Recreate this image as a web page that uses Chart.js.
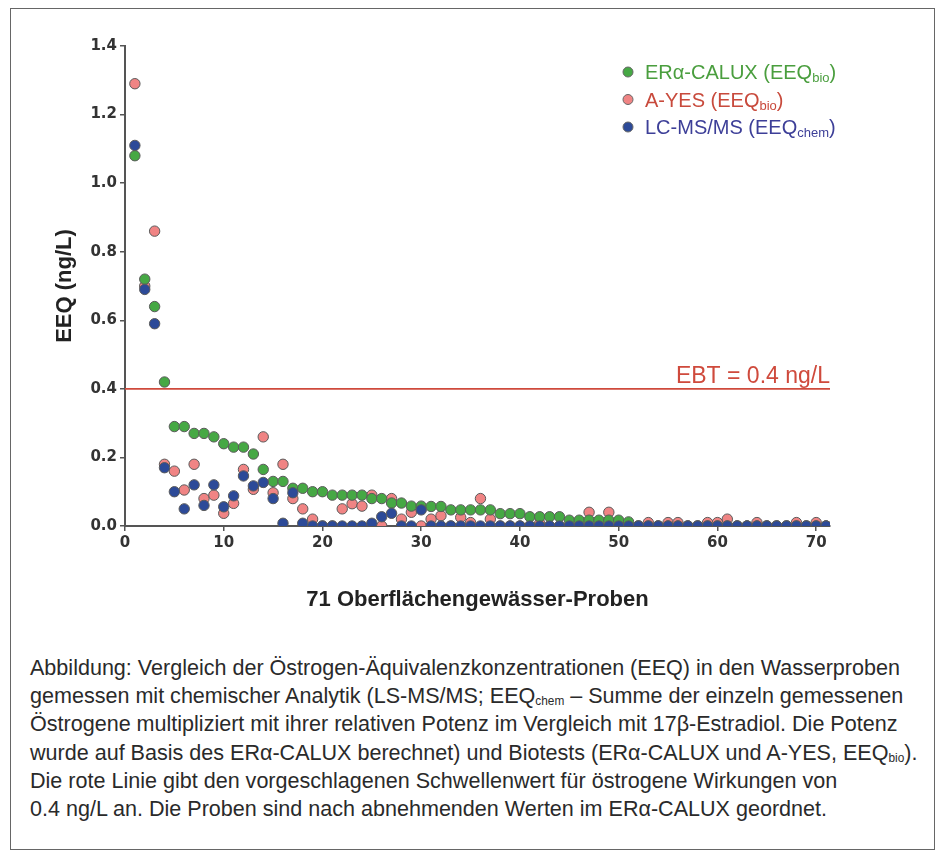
<!DOCTYPE html>
<html><head><meta charset="utf-8">
<script src="https://cdn.jsdelivr.net/npm/chart.js@4.4.0/dist/chart.umd.min.js"></script>
<style>
html,body{margin:0;padding:0;background:#fff;}
#frame{position:absolute;left:10px;top:8px;width:925px;height:842px;border:1px solid #666;box-sizing:border-box;}
#wrap{position:absolute;left:0;top:0;width:941px;height:640px;}
#caption{position:absolute;left:30px;top:654px;font-family:"Liberation Sans",Arial,sans-serif;font-size:18.5px;line-height:28.2px;color:#2a2a2a;white-space:nowrap;}
#caption div{height:28.2px;}
#caption span.l{display:inline-block;}
#caption sub{font-size:0.55em;vertical-align:-0.15em;line-height:0;}
</style></head>
<body>
<div id="frame"></div>
<div id="wrap"><canvas id="c" width="941" height="640"></canvas></div>
<div id="caption">
<div><span class="l" id="firstLine">Abbildung: Vergleich der Östrogen-Äquivalenzkonzentrationen (EEQ) in den Wasserproben</span></div>
<div>gemessen mit chemischer Analytik (LS-MS/MS; EEQ<sub>chem</sub> – Summe der einzeln gemessenen</div>
<div>Östrogene multipliziert mit ihrer relativen Potenz im Vergleich mit 17β-Estradiol. Die Potenz</div>
<div>wurde auf Basis des ERα-CALUX berechnet) und Biotests (ERα-CALUX und A-YES, EEQ<sub>bio</sub>).</div>
<div>Die rote Linie gibt den vorgeschlagenen Schwellenwert für östrogene Wirkungen von</div>
<div>0.4 ng/L an. Die Proben sind nach abnehmenden Werten im ERα-CALUX geordnet.</div>
</div>
<script>
// ---- data ----
const samples = [1,2,3,4,5,6,7,8,9,10,11,12,13,14,15,16,17,18,19,20,21,22,23,24,25,26,27,28,29,30,31,32,33,34,35,36,37,38,39,40,41,42,43,44,45,46,47,48,49,50,51,52,53,54,55,56,57,58,59,60,61,62,63,64,65,66,67,68,69,70,71];
const calux = [1.08,0.72,0.64,0.42,0.29,0.29,0.27,0.27,0.26,0.24,0.23,0.23,0.21,0.165,0.13,0.13,0.11,0.11,0.10,0.10,0.09,0.09,0.09,0.09,0.08,0.08,0.067,0.067,0.058,0.058,0.057,0.057,0.047,0.047,0.047,0.047,0.047,0.036,0.036,0.036,0.027,0.027,0.027,0.027,0.017,0.017,0.017,0.017,0.017,0.017,0.012,0,0,0,0,0,0,0,0,0,0,0,0,0,0,0,0,0,0,0,0];
const ayes = [1.29,0.70,0.86,0.18,0.16,0.105,0.18,0.08,0.09,0.037,0.066,0.165,0.107,0.26,0.097,0.18,0.08,0.05,0.02,0,0,0.05,0.065,0.058,0.09,0,0.08,0.02,0.04,0,0.02,0.03,0,0.025,0.01,0.08,0.02,0,0,0,0,0.008,0,0,0,0,0.04,0,0.04,0,0,0,0.01,0,0.01,0.01,0,0,0.01,0.01,0.02,0,0,0.01,0,0,0,0.01,0,0.01,0];
const lcms = [1.11,0.69,0.59,0.17,0.10,0.05,0.12,0.06,0.12,0.056,0.088,0.146,0.117,0.127,0.08,0.008,0.097,0.008,0,0,0,0,0,0,0.008,0.027,0.037,0,0,0.047,0,0,0,0,0,0,0,0,0,0,0,0,0,0,0,0,0,0,0,0,0,0,0,0,0,0,0,0,0,0,0,0,0,0,0,0,0,0,0,0,0];
const xTicks = [0,10,20,30,40,50,60,70];
const yTicks = [0,0.2,0.4,0.6,0.8,1.0,1.2,1.4];
const EBT = 0.4;
const xMin = 0, xMax = 71.4, yMin = 0, yMax = 1.4;

// fit caption width to the reference line length
(function(){
  const cap = document.getElementById('caption');
  const w = document.getElementById('firstLine').getBoundingClientRect().width;
  cap.style.fontSize = (18.5 * 870 / w).toFixed(2) + 'px';
})();

const GREEN='#46a844', RED='#f08484', BLUE='#2c4a98', LINE_RED='#cf4a3c';
const pts = arr => samples.map((s,i)=>({x:s,y:arr[i]}));

const legendItems = [
  {main:'ERα-CALUX (EEQ', sub:'bio', fill:GREEN, text:'#4a9e3e'},
  {main:'A-YES (EEQ', sub:'bio', fill:RED, text:'#c84a3c'},
  {main:'LC-MS/MS (EEQ', sub:'chem', fill:BLUE, text:'#3d3f98'}
];

const overlay = {
  id:'overlay',
  afterDatasetsDraw(chart){
    const ctx = chart.ctx, y = chart.scales.y, area = chart.chartArea;
    ctx.save();
    ctx.fillStyle = LINE_RED;
    ctx.font = '23px "Liberation Sans", Arial, sans-serif';
    ctx.textAlign = 'right'; ctx.textBaseline = 'alphabetic';
    ctx.fillText('EBT = ' + EBT + ' ng/L', area.right, y.getPixelForValue(EBT) - 6);
    ctx.textAlign = 'left';
    legendItems.forEach((it, k) => {
      const cy = 72 + k*27.5;
      ctx.beginPath(); ctx.arc(628, cy, 5, 0, Math.PI*2);
      ctx.fillStyle = it.fill; ctx.fill();
      ctx.lineWidth = 1; ctx.strokeStyle = '#666'; ctx.stroke();
      ctx.fillStyle = it.text;
      ctx.font = '20px "Liberation Sans", Arial, sans-serif';
      let x = 645; const base = cy + 7;
      ctx.fillText(it.main, x, base); x += ctx.measureText(it.main).width;
      ctx.font = '13px "Liberation Sans", Arial, sans-serif';
      ctx.fillText(it.sub, x, base + 3); x += ctx.measureText(it.sub).width;
      ctx.font = '20px "Liberation Sans", Arial, sans-serif';
      ctx.fillText(')', x, base);
    });
    ctx.restore();
  }
};

const ptStyle = c => ({type:'scatter', pointRadius:5.2, pointHoverRadius:5.2, pointBackgroundColor:c, pointBorderColor:'#5a5a5a', pointBorderWidth:1, showLine:false});
const tickFont = {family:'"DejaVu Sans", sans-serif', size:15, weight:'bold'};

new Chart(document.getElementById('c'), {
  type:'scatter',
  data:{ datasets:[
    Object.assign({label:'LC-MS/MS (EEQchem)', data:pts(lcms), order:1}, ptStyle(BLUE)),
    Object.assign({label:'ERα-CALUX (EEQbio)', data:pts(calux), order:2}, ptStyle(GREEN)),
    Object.assign({label:'A-YES (EEQbio)', data:pts(ayes), order:3}, ptStyle(RED)),
    {type:'line', label:'EBT', data:[{x:xMin,y:EBT},{x:xMax,y:EBT}], borderColor:LINE_RED, borderWidth:1.6, pointRadius:0, order:4}
  ]},
  options:{
    responsive:false, animation:false, devicePixelRatio:1,
    layout:{padding:{left:40, right:111, top:46, bottom:20}},
    plugins:{legend:{display:false}, tooltip:{enabled:false}},
    scales:{
      x:{type:'linear', min:xMin, max:xMax,
        afterBuildTicks: ax => { ax.ticks = xTicks.map(v=>({value:v})); },
        afterFit: ax => { ax.height = 94; },
        grid:{drawOnChartArea:false, drawTicks:true, tickLength:5, color:'#555', lineWidth:1.5},
        border:{display:true, color:'#555', width:2},
        ticks:{color:'#333', font:tickFont, padding:3, maxRotation:0},
        title:{display:true, text:'71 Oberflächengewässer-Proben', color:'#222', font:{family:'"Liberation Sans", Arial', size:22, weight:'bold'}, padding:{top:0,bottom:7}}
      },
      y:{type:'linear', min:yMin, max:yMax,
        afterBuildTicks: ax => { ax.ticks = yTicks.map(v=>({value:v})); },
        afterFit: ax => { ax.width = 85; },
        grid:{drawOnChartArea:false, drawTicks:true, tickLength:5, color:'#555', lineWidth:1.5},
        border:{display:true, color:'#555', width:2},
        ticks:{color:'#333', font:tickFont, padding:3, callback:v=>v.toFixed(1)},
        title:{display:true, text:'EEQ (ng/L)', color:'#222', font:{family:'"Liberation Sans", Arial', size:22, weight:'bold'}, padding:{top:12,bottom:0}}
      }
    }
  },
  plugins:[overlay]
});
</script>
</body></html>
